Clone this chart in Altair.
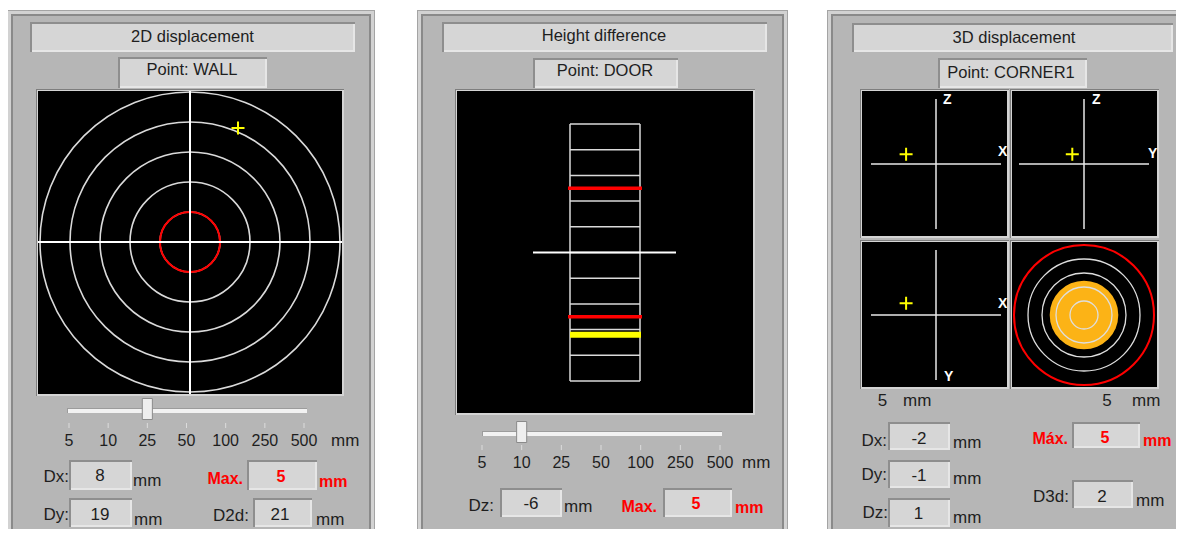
import altair as alt
import pandas as pd

# ---------------- values ----------------
scale_labels = ["5", "10", "25", "50", "100", "250", "500"]

# Panel 1: 2D displacement
p1_title = "2D displacement"
p1_point = "WALL"
p1_dx = 8
p1_dy = 19
p1_d2d = 21
p1_max = 5
p1_scale = "25"
p1_rings = [5, 10, 15, 20, 25]

# Panel 2: height difference
p2_title = "Height difference"
p2_point = "DOOR"
p2_dz = -6
p2_dz_mark = -6.4
p2_max = 5
p2_scale = "10"
p2_grid = [-10, -8, -6, -4, -2, 0, 2, 4, 6, 8, 10]

# Panel 3: 3D displacement
p3_title = "3D displacement"
p3_point = "CORNER1"
p3_dx = -2
p3_dy = -1
p3_dz = 1
p3_d3d = 2
p3_max = 5
p3_range = 5
p3_mark_x = -2.3
p3_mark_y = -0.9
p3_mark_z = 0.75
p3_rings = [1, 2, 3, 4]
p3_disc = 2.45

# ---------------- layout / style ----------------
OFF = 8
W, H = 1168, 521
FONT = "Liberation Sans"
TXT = "#1e1e1e"
BG = "#b6b6b6"
BOXF = "#d6d6d6"
RED = "#ff0000"
YEL = "#ffff00"
ORANGE = "#fcb316"
RING = "#dadada"
CROSS = "M-1,0H1M0,-1V1"
THUMB = "M-0.48,-1H0.48V1H-0.48Z"


def pxx():
    return alt.Scale(domain=[OFF, OFF + W], range=[0, W], nice=False, zero=False)


def pxy():
    return alt.Scale(domain=[OFF, OFF + H], range=[0, H], nice=False, zero=False)


def lin(dom, a, b):
    return alt.Scale(domain=dom, range=[a - OFF, b - OFF], nice=False, zero=False)


def v(p):
    return alt.value(p - OFF)


layers = []

# ---------------- chrome ----------------
rects = []


def add(x0, y0, x1, y1, c):
    rects.append(dict(x0=x0, y0=y0, x1=x1, y1=y1, c=c))


def panel(x0, x1):
    y0, y1 = 10, OFF + H
    add(x0, y0, x1, y1, "#a4a4a4")
    add(x0 + 1, y0 + 1, x1 - 1, y1, "#d2d2d2")
    add(x0 + 4, y0 + 4, x1 - 4, y1, "#8a8a8a")
    add(x0 + 6, y0 + 6, x1 - 6, y1, BG)


def sunken(x0, y0, x1, y1, fill=BOXF):
    add(x0, y0, x1, y1, "#8e8e8e")
    add(x0 + 2, y0 + 2, x1, y1, "#e6e6e6")
    add(x0 + 2, y0 + 2, x1 - 2, y1 - 2, fill)


def black(x0, y0, x1, y1):
    add(x0 - 2, y0 - 2, x1 + 2, y1 + 2, "#7e7e7e")
    add(x0 - 1, y0 - 1, x1 + 2, y1 + 2, "#d4d4d4")
    add(x0, y0, x1, y1, "#000000")


def track(x0, y0, x1, y1):
    add(x0, y0, x1, y1, "#9c9c9c")
    add(x0 + 1, y0 + 1, x1, y1, "#f2f2f2")


# panel 1
panel(7, 375)
sunken(30, 22, 355, 52)
sunken(118, 57, 267, 88)
black(38, 91, 342, 394)
track(67, 408, 307, 413)
sunken(69, 460, 132, 490)
sunken(247, 460, 317, 490)
sunken(69, 498, 132, 527)
sunken(253, 498, 312, 527)
# panel 2
panel(417, 788)
sunken(442, 22, 767, 52)
sunken(533, 58, 678, 88)
black(457, 91, 753, 413)
track(482, 431, 722, 436)
sunken(500, 488, 562, 517)
sunken(663, 488, 732, 517)
# panel 3
panel(827, 1200)
sunken(852, 23, 1173, 52)
sunken(938, 58, 1087, 88)
black(862, 91, 1007, 236)
black(1012, 91, 1157, 236)
black(862, 242, 1007, 387)
black(1012, 242, 1157, 387)
sunken(888, 422, 950, 450)
sunken(888, 460, 950, 488)
sunken(888, 498, 950, 527)
sunken(1072, 422, 1140, 448)
sunken(1072, 480, 1133, 508)

rect_df = pd.DataFrame(rects)
layers.append(
    alt.Chart(rect_df).mark_rect(strokeWidth=0).encode(
        x=alt.X("x0:Q", scale=pxx(), axis=None), x2="x1:Q",
        y=alt.Y("y0:Q", scale=pxy(), axis=None), y2="y1:Q",
        color=alt.Color("c:N", scale=None),
    )
)

# ---------------- panel 1 : 2D target ----------------
p1_half = float(p1_scale)
p1x = lin([-p1_half, p1_half], 190 - 150, 190 + 150)
p1y = lin([-p1_half, p1_half], 242 + 150, 242 - 150)
p1s = alt.Scale(type="pow", exponent=2, domain=[0, p1_half], range=[0, 300 ** 2])

ring_df = pd.DataFrame({"r": p1_rings, "c": [0] * len(p1_rings)})
layers.append(
    alt.Chart(ring_df).mark_point(shape="circle", filled=False, color=RING, strokeWidth=1.6, opacity=1).encode(
        x=alt.X("c:Q", scale=p1x, axis=None), y=alt.Y("c:Q", scale=p1y, axis=None),
        size=alt.Size("r:Q", scale=p1s, legend=None),
    )
)
layers.append(
    alt.Chart(pd.DataFrame({"r": [p1_max], "c": [0]})).mark_point(shape="circle", filled=False, color=RED, strokeWidth=2, opacity=1).encode(
        x=alt.X("c:Q", scale=p1x, axis=None), y=alt.Y("c:Q", scale=p1y, axis=None),
        size=alt.Size("r:Q", scale=p1s, legend=None),
    )
)
zero_df = pd.DataFrame({"z": [0]})
layers.append(alt.Chart(zero_df).mark_rule(color="white", strokeWidth=2).encode(
    y=alt.Y("z:Q", scale=p1y, axis=None), x=v(38), x2=v(342)))
layers.append(alt.Chart(zero_df).mark_rule(color="white", strokeWidth=2).encode(
    x=alt.X("z:Q", scale=p1x, axis=None), y=v(91), y2=v(394)))
layers.append(
    alt.Chart(pd.DataFrame({"dx": [p1_dx], "dy": [p1_dy]})).mark_point(
        shape=CROSS, filled=False, color=YEL, strokeWidth=2, size=169, opacity=1).encode(
        x=alt.X("dx:Q", scale=p1x, axis=None), y=alt.Y("dy:Q", scale=p1y, axis=None))
)


# ---------------- sliders ----------------
def slider(lab_x0, lab_x1, lab_y, tick_y0, tick_y1, thumb_y, sel):
    sc = alt.Scale(type="point", domain=scale_labels, range=[lab_x0 - OFF, lab_x1 - OFF], padding=0)
    df = pd.DataFrame({"s": scale_labels})
    out = [
        alt.Chart(df).mark_rule(color="#dcdcdc", strokeWidth=1).encode(
            x=alt.X("s:N", scale=sc, axis=None), y=v(tick_y0), y2=v(tick_y1)),
        alt.Chart(df).mark_text(font=FONT, fontSize=16, color=TXT, baseline="middle", align="center").encode(
            x=alt.X("s:N", scale=sc, axis=None), y=v(lab_y), text="s:N"),
        alt.Chart(pd.DataFrame({"s": [sel]})).mark_point(
            shape=THUMB, filled=True, color="#eeeeee", stroke="#8a8a8a", strokeWidth=1, size=441, opacity=1).encode(
            x=alt.X("s:N", scale=sc, axis=None), y=v(thumb_y)),
    ]
    return out


layers += slider(69, 304, 440.5, 423, 428, 409, p1_scale)
layers += slider(482, 720, 462.5, 445, 450, 432, p2_scale)

# ---------------- panel 2 : height bar ----------------
p2_half = float(p2_scale)
p2y = lin([-p2_half, p2_half], 381, 124)
side_df = pd.DataFrame({"sx": [570, 640], "lo": [p2_grid[0]] * 2, "hi": [p2_grid[-1]] * 2})
layers.append(alt.Chart(side_df).mark_rule(color=RING, strokeWidth=1.5).encode(
    x=alt.X("sx:Q", scale=pxx(), axis=None), y=alt.Y("lo:Q", scale=p2y, axis=None), y2="hi:Q"))
layers.append(alt.Chart(pd.DataFrame({"g": p2_grid})).mark_rule(color=RING, strokeWidth=1.5).encode(
    y=alt.Y("g:Q", scale=p2y, axis=None), x=v(570), x2=v(640)))
layers.append(alt.Chart(zero_df).mark_rule(color="white", strokeWidth=2).encode(
    y=alt.Y("z:Q", scale=p2y, axis=None), x=v(533), x2=v(676)))
layers.append(alt.Chart(pd.DataFrame({"m": [p2_max, -p2_max]})).mark_rule(color=RED, strokeWidth=3.5).encode(
    y=alt.Y("m:Q", scale=p2y, axis=None), x=v(568), x2=v(642)))
layers.append(alt.Chart(pd.DataFrame({"m": [p2_dz_mark]})).mark_rule(color=YEL, strokeWidth=6).encode(
    y=alt.Y("m:Q", scale=p2y, axis=None), x=v(570), x2=v(641)))

# ---------------- panel 3 : projections ----------------
P3H = 65


def axes_view(cx, cy, hv, vv, down, labels):
    sx = lin([-p3_range, p3_range], cx - P3H, cx + P3H)
    if down:
        sy = lin([-p3_range, p3_range], cy - P3H, cy + P3H)
    else:
        sy = lin([-p3_range, p3_range], cy + P3H, cy - P3H)
    ax = pd.DataFrame({"a": [-p3_range], "b": [p3_range], "z": [0]})
    out = [
        alt.Chart(ax).mark_rule(color="#e8e8e8", strokeWidth=1.5).encode(
            x=alt.X("a:Q", scale=sx, axis=None), x2="b:Q", y=alt.Y("z:Q", scale=sy, axis=None)),
        alt.Chart(ax).mark_rule(color="#e8e8e8", strokeWidth=1.5).encode(
            y=alt.Y("a:Q", scale=sy, axis=None), y2="b:Q", x=alt.X("z:Q", scale=sx, axis=None)),
        alt.Chart(pd.DataFrame({"h": [hv], "v": [vv]})).mark_point(
            shape=CROSS, filled=False, color=YEL, strokeWidth=2, size=169, opacity=1).encode(
            x=alt.X("h:Q", scale=sx, axis=None), y=alt.Y("v:Q", scale=sy, axis=None)),
    ]
    for (t, lx, ly, dx, dy) in labels:
        out.append(
            alt.Chart(pd.DataFrame({"t": [t], "lx": [lx], "ly": [ly]})).mark_text(
                font=FONT, fontSize=14, fontWeight="bold", color="white", align="left",
                baseline="middle", dx=dx, dy=dy).encode(
                x=alt.X("lx:Q", scale=sx, axis=None), y=alt.Y("ly:Q", scale=sy, axis=None), text="t:N")
        )
    return out


R = p3_range
layers += axes_view(936, 164, p3_mark_x, p3_mark_z, False,
                    [("Z", 0, R, 7, 1), ("X", R, 0, -3, -12)])
layers += axes_view(1084, 164, p3_mark_y, p3_mark_z, False,
                    [("Z", 0, R, 8, 1), ("Y", R, 0, -1, -10)])
layers += axes_view(936, 315, p3_mark_x, p3_mark_y, True,
                    [("X", R, 0, -3, -11), ("Y", 0, R, 8, -3)])

# bottom-right: 3D magnitude target
brx = lin([-p3_max, p3_max], 1084 - 70, 1084 + 70)
bry = lin([-p3_max, p3_max], 315 + 70, 315 - 70)
brs = alt.Scale(type="pow", exponent=2, domain=[0, p3_max], range=[0, 140 ** 2])
layers.append(
    alt.Chart(pd.DataFrame({"r": [p3_disc], "c": [0]})).mark_point(
        shape="circle", filled=True, color=ORANGE, strokeWidth=0, opacity=1).encode(
        x=alt.X("c:Q", scale=brx, axis=None), y=alt.Y("c:Q", scale=bry, axis=None),
        size=alt.Size("r:Q", scale=brs, legend=None))
)
layers.append(
    alt.Chart(pd.DataFrame({"r": p3_rings, "c": [0] * len(p3_rings)})).mark_point(
        shape="circle", filled=False, color="#dedede", strokeWidth=1.3, opacity=1).encode(
        x=alt.X("c:Q", scale=brx, axis=None), y=alt.Y("c:Q", scale=bry, axis=None),
        size=alt.Size("r:Q", scale=brs, legend=None))
)
layers.append(
    alt.Chart(pd.DataFrame({"r": [p3_max], "c": [0]})).mark_point(
        shape="circle", filled=False, color=RED, strokeWidth=2, opacity=1).encode(
        x=alt.X("c:Q", scale=brx, axis=None), y=alt.Y("c:Q", scale=bry, axis=None),
        size=alt.Size("r:Q", scale=brs, legend=None))
)


# ---------------- texts ----------------
def text_layer(rows, align, size=17, color=TXT, weight="normal"):
    df = pd.DataFrame(rows, columns=["x", "y", "t"])
    return alt.Chart(df).mark_text(
        align=align, baseline="middle", font=FONT, fontSize=size, fontWeight=weight, color=color).encode(
        x=alt.X("x:Q", scale=pxx(), axis=None), y=alt.Y("y:Q", scale=pxy(), axis=None), text="t:N")


layers.append(text_layer([
    (192.5, 36.5, p1_title), (192, 70, "Point: " + p1_point),
    (604, 36, p2_title), (605, 71, "Point: " + p2_point),
    (1014, 37.5, p3_title), (1011, 72.5, "Point: " + p3_point),
], "center", size=16.5))

layers.append(text_layer([
    (100, 475.5, str(p1_dx)), (100, 515, str(p1_dy)), (280, 515, str(p1_d2d)),
    (531, 503.5, str(p2_dz)),
    (919, 438.5, str(p3_dx)), (919, 476, str(p3_dy)), (918.5, 513.5, str(p3_dz)), (1102, 497, str(p3_d3d)),
    (882.5, 401, str(p3_range)), (1107, 401, str(p3_range)),
], "center"))

layers.append(text_layer([
    (69, 476.5, "Dx:"), (69, 515, "Dy:"), (249, 516, "D2d:"),
    (494, 505.5, "Dz:"),
    (887, 440.5, "Dx:"), (887, 475, "Dy:"), (888, 512.5, "Dz:"), (1069, 497, "D3d:"),
], "right"))

layers.append(text_layer([
    (133, 481, "mm"), (134, 520, "mm"), (316, 520, "mm"),
    (564, 506.5, "mm"),
    (953, 442.5, "mm"), (953, 479, "mm"), (953, 517.5, "mm"), (1136, 500.5, "mm"),
    (903, 401, "mm"), (1132, 401, "mm"),
    (331, 440.5, "mm"), (742, 462.5, "mm"),
], "left"))

layers.append(text_layer([
    (243, 478.5, "Max."), (657, 506.5, "Max."), (1068, 438.5, "Máx."),
], "right", size=16, color=RED, weight="bold"))
layers.append(text_layer([
    (281, 477, str(p1_max)), (696, 503.5, str(p2_max)), (1105, 438, str(p3_max)),
], "center", size=16, color=RED, weight="bold"))
layers.append(text_layer([
    (319, 482, "mm"), (735, 507.5, "mm"), (1143, 441, "mm"),
], "left", size=16, color=RED, weight="bold"))

chart = alt.layer(*layers).resolve_scale(
    x="independent", y="independent", size="independent"
).properties(
    width=W, height=H, padding=0, autosize=alt.AutoSizeParams(type="none"), background="white"
).configure_view(strokeWidth=0)

chart.save("out.html", embed_options={"renderer": "svg", "actions": False})
